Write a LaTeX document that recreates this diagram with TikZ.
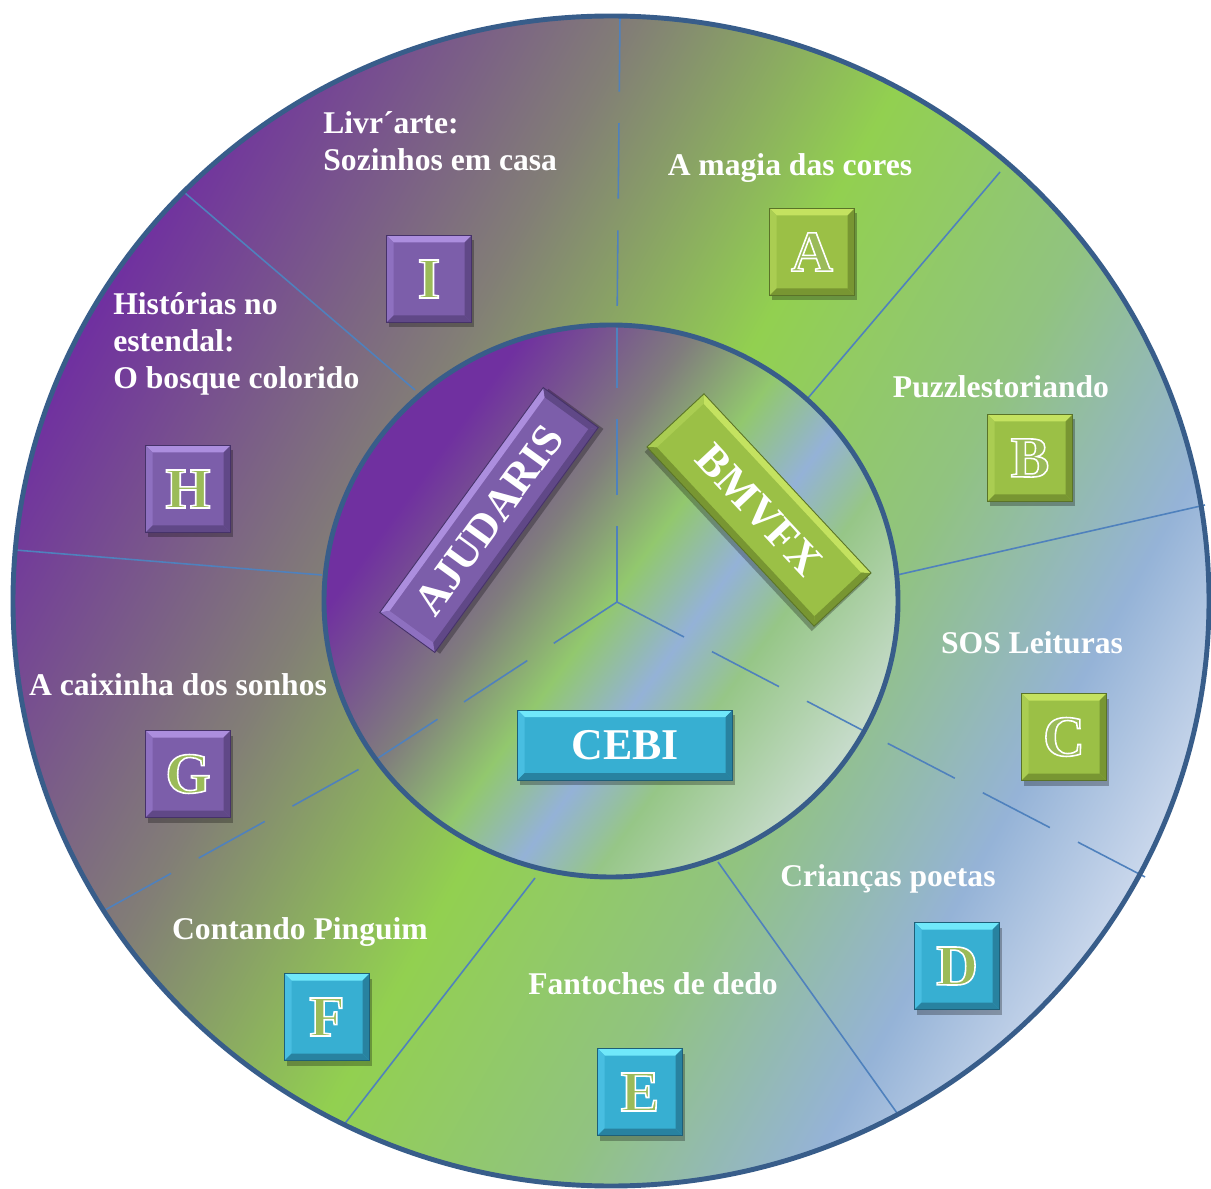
\documentclass[tikz,border=0pt]{standalone}
\usepackage{fontspec}
\setmainfont{Liberation Serif}
\usepackage{tikz}
\usetikzlibrary{calc}

% ring and disk colours
\definecolor{ringpurple}{RGB}{112,48,160}
\definecolor{ringgrey}{RGB}{130,126,118}
\definecolor{ringgreen}{RGB}{146,208,80}
\definecolor{ringlgreen}{RGB}{145,195,128}
\definecolor{ringblue}{RGB}{149,179,215}
\definecolor{ringpale}{RGB}{200,214,235}
\definecolor{diskpurple}{RGB}{112,48,160}
\definecolor{diskgrey}{RGB}{128,125,125}
\definecolor{diskgreen}{RGB}{146,200,110}
\definecolor{diskblue}{RGB}{148,178,215}
\definecolor{disklgreen}{RGB}{150,198,135}
\definecolor{diskpale}{RGB}{200,220,205}
\definecolor{rimblue}{RGB}{56,93,138}
\definecolor{lineblue}{RGB}{79,129,189}
% box colours
\definecolor{purpmid}{RGB}{124,94,170}
\definecolor{purptop}{RGB}{172,142,222}
\definecolor{purpside}{RGB}{142,112,192}
\definecolor{purpdark}{RGB}{96,72,135}
\definecolor{purpedge}{RGB}{70,50,105}
\definecolor{grnmid}{RGB}{155,192,70}
\definecolor{grntop}{RGB}{196,226,96}
\definecolor{grnside}{RGB}{170,205,82}
\definecolor{grndark}{RGB}{120,150,50}
\definecolor{grnedge}{RGB}{90,115,40}
\definecolor{aquamid}{RGB}{55,175,210}
\definecolor{aquatop}{RGB}{112,232,250}
\definecolor{aquaside}{RGB}{72,190,225}
\definecolor{aquadark}{RGB}{40,130,160}
\definecolor{aquaedge}{RGB}{30,95,120}

\pgfdeclarehorizontalshading{outerring}{100bp}{color(0bp)=(ringpurple); color(25bp)=(ringpurple); color(39bp)=(ringgrey); color(50bp)=(ringgreen); color(60bp)=(ringlgreen); color(69bp)=(ringblue); color(75bp)=(ringpale); color(100bp)=(ringpale)}
\pgfdeclarehorizontalshading{innerdisk}{100bp}{color(0bp)=(diskpurple); color(25bp)=(diskpurple); color(30bp)=(diskpurple); color(42bp)=(diskgrey); color(50bp)=(diskgreen); color(57bp)=(diskblue); color(63bp)=(disklgreen); color(75bp)=(diskpale); color(100bp)=(diskpale)}

% green letter with white outline
\newcommand{\outlined}[1]{\special{pdf:literal direct 2 Tr 0.608 0.733 0.349 rg 1 1 1 RG 0.9 w}#1\special{pdf:literal direct 0 Tr}}

% bevelled box: name, centre, angle, width, height, colour, text
\newcommand{\bevelbox}[7]{%
  \begin{scope}[shift={#2}, rotate=#3, x=0.02cm, y=0.02cm]
    \fill[black, opacity=0.28] (-#4/2+2,-#5/2-5) rectangle (#4/2+2,#5/2-5);
    \fill[#6mid] (-#4/2,-#5/2) rectangle (#4/2,#5/2);
    \fill[#6top] (-#4/2,#5/2) -- (#4/2,#5/2) -- (#4/2-7,#5/2-7) -- (-#4/2+7,#5/2-7) -- cycle;
    \fill[#6side] (-#4/2,#5/2) -- (-#4/2+7,#5/2-7) -- (-#4/2+7,-#5/2+7) -- (-#4/2,-#5/2) -- cycle;
    \fill[#6dark] (#4/2,#5/2) -- (#4/2-7,#5/2-7) -- (#4/2-7,-#5/2+7) -- (#4/2,-#5/2) -- cycle;
    \fill[#6dark] (-#4/2,-#5/2) -- (-#4/2+7,-#5/2+7) -- (#4/2-7,-#5/2+7) -- (#4/2,-#5/2) -- cycle;
    \draw[#6edge, line width=0.5pt] (-#4/2,-#5/2) rectangle (#4/2,#5/2);
    \node[transform shape, text=white, inner sep=0pt, font=\bfseries\fontsize{25}{30}\selectfont] (#1) at (0,0) {#7};
  \end{scope}}
\newcommand{\letterbox}[4]{\bevelbox{#1}{#2}{0}{85}{87}{#3}{\fontsize{33}{36}\selectfont\outlined{#4}}}

\begin{document}
\begin{tikzpicture}[x=0.02cm, y=-0.02cm,
    lbl/.style={text=white, inner sep=0pt, font=\bfseries\fontsize{18}{21}\selectfont},
    divider/.style={lineblue, line width=0.9pt},
    radial/.style={lineblue, line width=0.9pt, dash pattern=on 43pt off 18pt},
    rim/.style={rimblue, line width=2.8pt}]
\useasboundingbox (0,0) rectangle (1211,1189);
\fill[white] (0,0) rectangle (1211,1189);

% disks
\shade[shading=outerring, shading angle=-29] (611,601) ellipse [x radius=598, y radius=585];
\shade[shading=innerdisk, shading angle=-36] (611,601) ellipse [x radius=287, y radius=276];

% dividers
\draw[divider] (808,398) -- (1000,172);
\draw[divider] (897,575) -- (1205,505);
\draw[divider] (718,862) -- (897,1113);
\draw[divider] (535,878) -- (343,1126);
\draw[divider] (322,575) -- (15,550);
\draw[divider] (415,390) -- (185,193);

\coordinate (ctr) at (617,602);
\coordinate (upin) at (617,326);
\coordinate (upout) at (620,16);
\coordinate (rin) at (862,730);
\coordinate (rout) at (1145,877);
\coordinate (lin) at (372,762);
\coordinate (lout) at (105,910);
\draw[radial] (ctr) -- (upin);
\draw[radial] (ctr) -- (rin);
\draw[radial] (ctr) -- (lin);
\draw[radial] (upout) -- (upin);
\draw[radial] (rout) -- (rin);
\draw[radial] (lout) -- (lin);

\draw[rim] (611,601) ellipse [x radius=598, y radius=585];
\draw[rim] (611,601) ellipse [x radius=287, y radius=276];

% centre bars
\bevelbox{ajudaris}{(489,520)}{54}{278}{68}{purp}{AJUDARIS}
\bevelbox{bmvfx}{(759,510)}{-47}{245}{78}{grn}{BMVFX}
\bevelbox{cebi}{(625,745)}{0}{215}{70}{aqua}{CEBI}

% letter boxes
\letterbox{boxa}{(812,252)}{grn}{A}
\letterbox{boxb}{(1030,458)}{grn}{B}
\letterbox{boxc}{(1064,737)}{grn}{C}
\letterbox{boxd}{(957,966)}{aqua}{D}
\letterbox{boxe}{(640,1092)}{aqua}{E}
\letterbox{boxf}{(327,1017)}{aqua}{F}
\letterbox{boxg}{(188,774)}{purp}{G}
\letterbox{boxh}{(188,489)}{purp}{H}
\letterbox{boxi}{(429,279)}{purp}{I}

% labels
\node[lbl, anchor=base] (magia) at (790,176) {A magia das cores};
\node[lbl, anchor=base] (puzzle) at (1001,398) {Puzzlestoriando};
\node[lbl, anchor=base] (sos) at (1032,653) {SOS Leituras};
\node[lbl, anchor=base] (poetas) at (888,886) {Crianças poetas};
\node[lbl, anchor=base] (fantoches) at (653,994) {Fantoches de dedo};
\node[lbl, anchor=base] (pinguim) at (300,939) {Contando Pinguim};
\node[lbl, anchor=base] (caixinha) at (178,695) {A caixinha dos sonhos};
\node[lbl, anchor=north west, align=left] (livrarte) at (323,111) {Livr´arte:\\Sozinhos em casa};
\node[lbl, anchor=north west, align=left] (estendal) at (113,292) {Histórias no\\estendal:\\O bosque colorido};
\end{tikzpicture}
\end{document}
